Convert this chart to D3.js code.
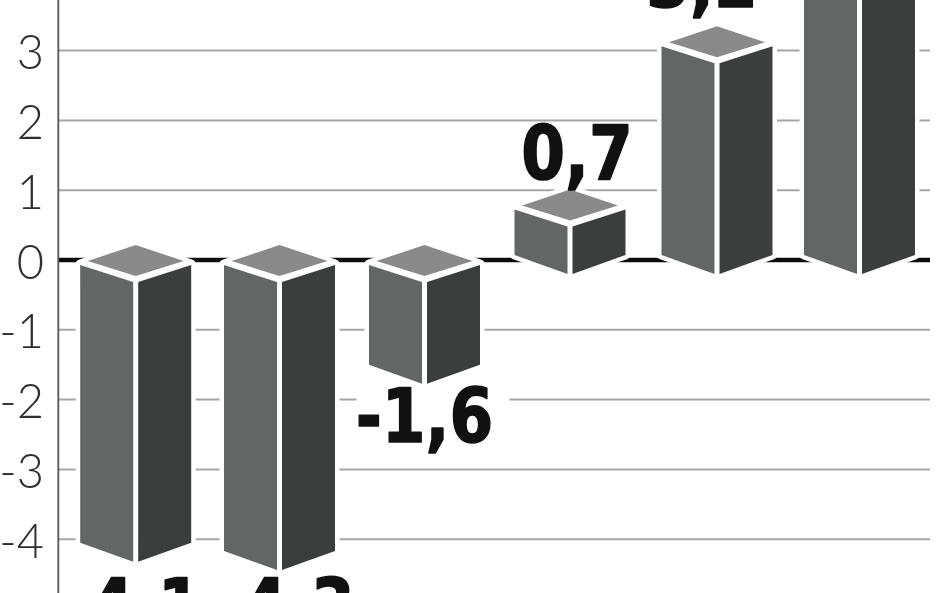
<!DOCTYPE html>
<html><head><meta charset="utf-8">
<style>html,body{margin:0;padding:0;background:#fff}svg{display:block;filter:blur(0.55px)}</style>
<script src="https://cdn.jsdelivr.net/npm/d3@7"></script></head>
<body><svg id="c" width="948" height="593"></svg>
<script>
const categories = [0,1,2,3,4,5];
const labels = ["-4,1","-4,3","-1,6","0,7","3,2",""];
const values = [-4.15,-4.27,-1.6,0.78,3.12,4.7];
const ticks = [3,2,1,0,-1,-2,-3,-4];
const tickLabels = ["3","2","1","0","-1","-2","-3","-4"];

const svg = d3.select("#c");
const H=593;
const y = d3.scaleLinear().domain([0,1]).range([260,190.2]);
const x = d3.scaleOrdinal().domain(categories).range([135.7,279.5,424.5,570,717,859.5]);
const labelX = d3.scaleOrdinal().domain(categories).range([133,286,424.5,577,702,859.5]);
const labelY = d3.scaleOrdinal().domain(categories).range([632,632,442,179,7,-60]);

// axis and grid
svg.selectAll("line.g").data(ticks.filter(t=>t!==0)).join("line").attr("class","g")
 .attr("x1",59).attr("x2",930).attr("y1",d=>y(d)).attr("y2",d=>y(d))
 .attr("stroke","#a6a6a6").attr("stroke-width",2);
svg.append("line").attr("x1",59).attr("x2",930).attr("y1",y(0)).attr("y2",y(0)).attr("stroke","#0c0c0c").attr("stroke-width",4.5);
svg.append("line").attr("x1",58.3).attr("x2",58.3).attr("y1",0).attr("y2",H).attr("stroke","#555").attr("stroke-width",1.8);

// tick labels
svg.selectAll("text.t").data(ticks).join("text").attr("class","t")
 .attr("x",44).attr("y",d=>y(d)+18.5).attr("text-anchor","end")
 .style("font-family","Lato").style("font-weight",300).style("font-size","47px").attr("fill","#2e2e2e")
 .text((d,i)=>tickLabels[i]);

const labelData = categories.filter(i=>labels[i]!=="");
const labelFont = s=>s.style("font-family","DejaVu Sans").style("font-weight",700).style("font-size","75px")
  .attr("text-anchor","middle").attr("transform",i=>`translate(${labelX(i)},${labelY(i)}) scale(0.84,1)`).text(i=>labels[i]);

// white knockouts in the grid where value labels cross it (under the bars)
svg.append("rect").attr("x",labelX(2)-68).attr("y",labelY(2)-56).attr("width",153).attr("height",56).attr("fill","#fff");
svg.append("rect").attr("x",labelX(3)-22).attr("y",labelY(3)+5).attr("width",28).attr("height",12).attr("fill","#fff");

const pts=a=>a.map(p=>p.join(",")).join(" ");
const hw=55.5, g=2.5;
categories.forEach(i=>{
  const v=values[i], c=x(i);
  const top = v<0 ? y(0)+1 : y(v);
  const bot = v<0 ? y(v) : y(0)+2;
  const outline=[[c-hw,top+3],[c,top-16],[c+hw,top+3],[c+hw,bot-7],[c,bot+12],[c-hw,bot-7]];
  svg.append("polygon").attr("points",pts(outline)).attr("fill","#fff").attr("stroke","#fff").attr("stroke-width",9).attr("stroke-linejoin","round");
  svg.append("polygon").attr("points",pts([[c-hw,top+4],[c-g,top+21],[c-g,bot+12],[c-hw,bot-7]])).attr("fill","#646665");
  svg.append("polygon").attr("points",pts([[c+hw,top+4],[c+g,top+21],[c+g,bot+12],[c+hw,bot-7]])).attr("fill","#3c3e3d");
  svg.append("polygon").attr("points",pts([[c-48,top],[c,top-16],[c+48,top],[c,top+15]])).attr("fill","#8a8a8a");
});

// value labels
svg.append("g").selectAll("text").data(labelData).join("text").call(labelFont)
 .attr("fill","#111").attr("stroke","#111").attr("stroke-width",1.6).attr("stroke-linejoin","round");
</script></body></html>
